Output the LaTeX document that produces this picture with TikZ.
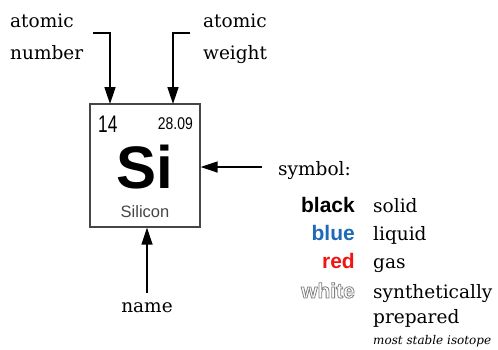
\documentclass[tikz,border=0pt]{standalone}
\usepackage{fontspec}
\setmainfont{DejaVu Serif}
\setsansfont{Liberation Sans}
\usetikzlibrary{arrows.meta}
\definecolor{boxgray}{RGB}{70,70,70}
\definecolor{liqblue}{RGB}{30,105,185}
\definecolor{gasred}{RGB}{240,20,20}
\newcommand{\outlinedtext}[1]{\special{pdf:literal direct q 2 Tr 0.8 w 0.5 0.5 0.5 RG 1 1 1 rg}#1\special{pdf:literal direct Q}}
\tikzset{
  lbl/.style={font=\fontsize{18.5}{20}\selectfont, inner sep=0pt, anchor=base},
  lbll/.style={lbl, anchor=base west},
  state/.style={font=\sffamily\bfseries\fontsize{21}{22}\selectfont, inner sep=0pt, anchor=base east},
  pointer/.style={line width=1.6pt, -{Triangle[length=17pt,width=11pt]}},
}
\begin{document}
\begin{tikzpicture}[x=1pt,y=-1pt]
\useasboundingbox (0,0) rectangle (498,349);
% element box
\node[draw=boxgray, line width=1.3pt, minimum width=110pt, minimum height=123pt, inner sep=0pt] (box) at (145,165.5) {};
\node[font=\sffamily\fontsize{24}{24}\selectfont, xscale=0.72, inner sep=0pt, anchor=base west] (num) at (98,132) {14};
\node[font=\sffamily\fontsize{17}{17}\selectfont, xscale=0.82, inner sep=0pt, anchor=base east] (wt) at (193,129) {28.09};
\node[font=\sffamily\bfseries\fontsize{60}{60}\selectfont, inner sep=0pt, anchor=base] (sym) at (145,188) {Si};
\node[font=\sffamily\fontsize{16.5}{17}\selectfont, text=boxgray, inner sep=0pt, anchor=base] (nm) at (145,217) {Silicon};
% labels
\node[lbll] (an1) at (10,27) {atomic};
\node[lbll] (an2) at (10,59) {number};
\node[lbll] (aw1) at (203,27) {atomic};
\node[lbll] (aw2) at (203,59) {weight};
\node[lbll] (symlbl) at (278,175) {symbol:};
\node[lbl] (namelbl) at (147,312) {name};
% pointers
\coordinate (anstart) at (93,33);
\coordinate (awstart) at (190,33);
\coordinate (symstart) at (262,167);
\coordinate (namestart) at (147,293);
\draw[pointer] (anstart) -| (110,104);
\draw[pointer] (awstart) -| (173,104);
\draw[pointer] (symstart) -- (box.east |- symstart);
\draw[pointer] (namestart) -- (box.south -| namestart);
% legend
\node[state] (black) at (355,212) {black};
\node[state, text=liqblue] (blue) at (355,240) {blue};
\node[state, text=gasred] (red) at (355,268) {red};
\node[state] (white) at (355,298) {\outlinedtext{white}};
\node[lbll] (solid) at (373,212) {solid};
\node[lbll] (liquid) at (373,240) {liquid};
\node[lbll] (gas) at (373,268) {gas};
\node[lbll] (syn) at (373,298) {synthetically};
\node[lbll] (prep) at (373,323) {prepared};
\node[lbll, font=\itshape\fontsize{12}{12}\selectfont] (iso) at (373,344) {most stable isotope};
\end{tikzpicture}
\end{document}
